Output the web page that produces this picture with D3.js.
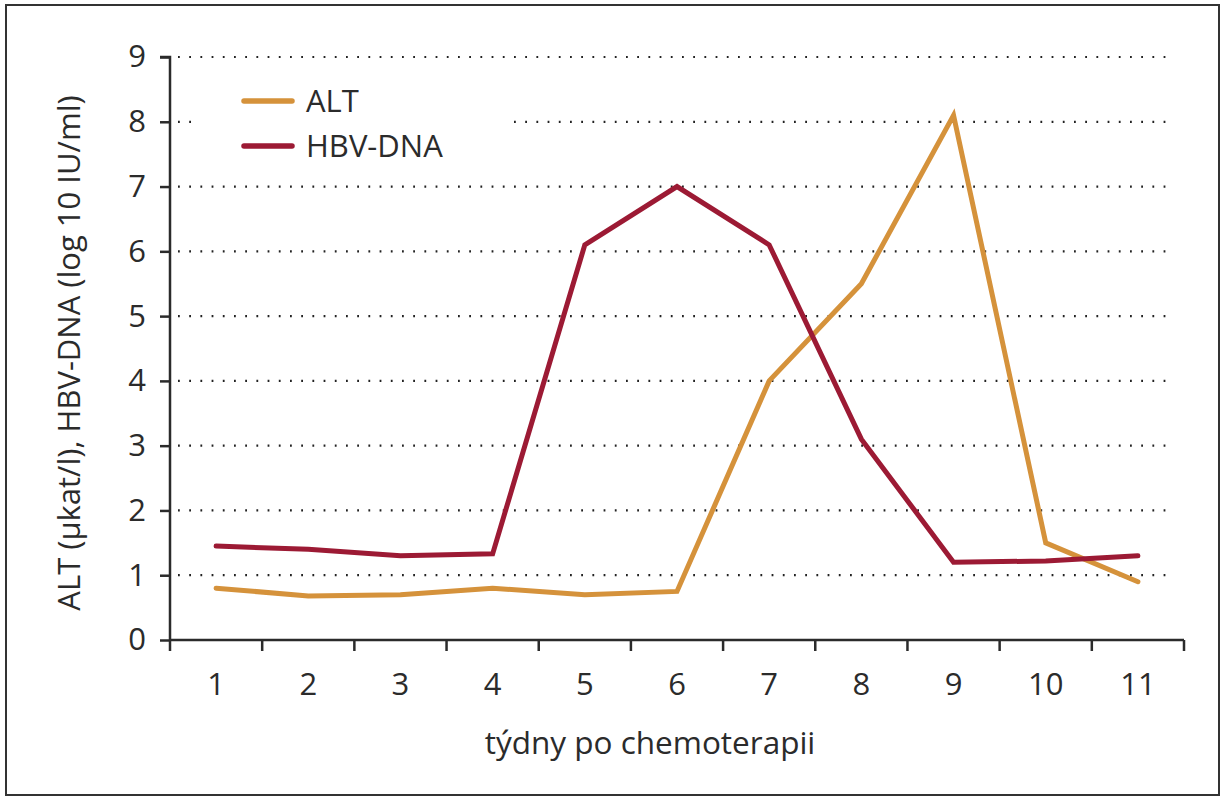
<!DOCTYPE html>
<html lang="cs">
  <head>
    <meta charset="UTF-8" />
    <title>ALT a HBV-DNA</title>
    <script src="https://cdn.jsdelivr.net/npm/d3@7"></script>
    <style>
      html,
      body {
        margin: 0;
        background: #fff;
        font-family: 'Open Sans', sans-serif;
      }
      text {
        fill: #2b2b2b;
      }
    </style>
  </head>
  <body>
    <div id="chart"></div>
    <script>
      // data
      const weeks = ["1", "2", "3", "4", "5", "6", "7", "8", "9", "10", "11"];
      const alt = [0.8, 0.68, 0.7, 0.8, 0.7, 0.75, 4.0, 5.5, 8.1, 1.5, 0.9];
      const hbv = [1.45, 1.4, 1.3, 1.33, 6.1, 7.0, 6.1, 3.1, 1.2, 1.22, 1.3];
      const yTicks = [0, 1, 2, 3, 4, 5, 6, 7, 8, 9];

      const series = [
        { name: "ALT", values: alt, color: "#d5923b" },
        { name: "HBV-DNA", values: hbv, color: "#9c1a34" },
      ];

      const W = 1225,
        H = 800,
        margin = { top: 57, right: 41, bottom: 160, left: 170 },
        iw = W - margin.left - margin.right,
        ih = H - margin.top - margin.bottom;

      const svg = d3
        .select("#chart")
        .append("svg")
        .attr("width", W)
        .attr("height", H);

      // frame
      svg
        .append("rect")
        .attr("x", 6)
        .attr("y", 5)
        .attr("width", 1213)
        .attr("height", 790)
        .attr("fill", "none")
        .attr("stroke", "#333")
        .attr("stroke-width", 2);

      const g = svg
        .append("g")
        .attr("transform", `translate(${margin.left},${margin.top})`);

      const x = d3.scaleBand().domain(weeks).range([0, iw]).padding(0);
      const y = d3.scaleLinear().domain([0, 9]).range([ih, 0]);

      // dotted grid
      g.append("g")
        .selectAll("line")
        .data(yTicks.filter((d) => d > 0))
        .join("line")
        .attr("x1", 8)
        .attr("x2", iw - 12)
        .attr("y1", (d) => y(d))
        .attr("y2", (d) => y(d))
        .attr("stroke", "#222")
        .attr("stroke-width", 2.2)
        .attr("stroke-dasharray", "1.8,9.4");

      // y axis
      const yAxis = g
        .append("g")
        .call(d3.axisLeft(y).tickValues(yTicks).tickSize(10).tickPadding(14));
      yAxis.select(".domain").attr("stroke", "#2b2b2b").attr("stroke-width", 2.5)
        .attr("d", `M-10,0H0V${ih}`);
      yAxis.selectAll(".tick line").attr("stroke", "#2b2b2b").attr("stroke-width", 2.5);
      yAxis.selectAll(".tick text").style("font-size", "31px").style("font-family", "'Open Sans', sans-serif");

      // x axis: ticks at band edges, labels at centres
      const edges = weeks.map((d) => x(d)).concat([iw]);
      const xg = g.append("g").attr("transform", `translate(0,${ih})`);
      xg.append("line")
        .attr("x1", 0)
        .attr("x2", iw)
        .attr("stroke", "#2b2b2b")
        .attr("stroke-width", 2.5);
      xg.selectAll(".edge")
        .data(edges)
        .join("line")
        .attr("class", "edge")
        .attr("x1", (d) => d)
        .attr("x2", (d) => d)
        .attr("y1", 0)
        .attr("y2", 11)
        .attr("stroke", "#2b2b2b")
        .attr("stroke-width", 2.5);
      xg.selectAll(".lab")
        .data(weeks)
        .join("text")
        .attr("class", "lab")
        .attr("x", (d) => x(d) + x.bandwidth() / 2)
        .attr("y", 55)
        .attr("text-anchor", "middle")
        .style("font-size", "31px")
        .text((d) => d);

      // axis titles
      svg
        .append("text")
        .attr("x", 650)
        .attr("y", 754)
        .attr("text-anchor", "middle")
        .style("font-size", "31.5px")
        .text("týdny po chemoterapii");

      svg
        .append("text")
        .attr("transform", "translate(80,353) rotate(-90)")
        .attr("text-anchor", "middle")
        .style("font-size", "31px")
        .text("ALT (µkat/l), HBV-DNA (log 10 IU/ml)");

      // lines
      const line = d3
        .line()
        .x((d, i) => x(weeks[i]) + x.bandwidth() / 2)
        .y((d) => y(d));

      g.selectAll(".series")
        .data(series)
        .join("path")
        .attr("class", "series")
        .attr("fill", "none")
        .attr("stroke", (d) => d.color)
        .attr("stroke-width", 5)
        .attr("stroke-linejoin", "miter")
        .attr("stroke-linecap", "round")
        .attr("d", (d) => line(d.values));

      // legend
      const legend = svg.append("g");
      legend
        .append("rect")
        .attr("x", 200)
        .attr("y", 75)
        .attr("width", 310)
        .attr("height", 95)
        .attr("fill", "#fff");
      const item = legend
        .selectAll(".item")
        .data(series)
        .join("g")
        .attr("class", "item")
        .attr("transform", (d, i) => `translate(0,${101 + i * 45})`);
      item
        .append("line")
        .attr("x1", 244)
        .attr("x2", 292)
        .attr("stroke", (d) => d.color)
        .attr("stroke-width", 5.5)
        .attr("stroke-linecap", "round");
      item
        .append("text")
        .attr("x", 306)
        .attr("y", 11)
        .style("font-size", "31px")
        .text((d) => d.name);
    </script>
  </body>
</html>
